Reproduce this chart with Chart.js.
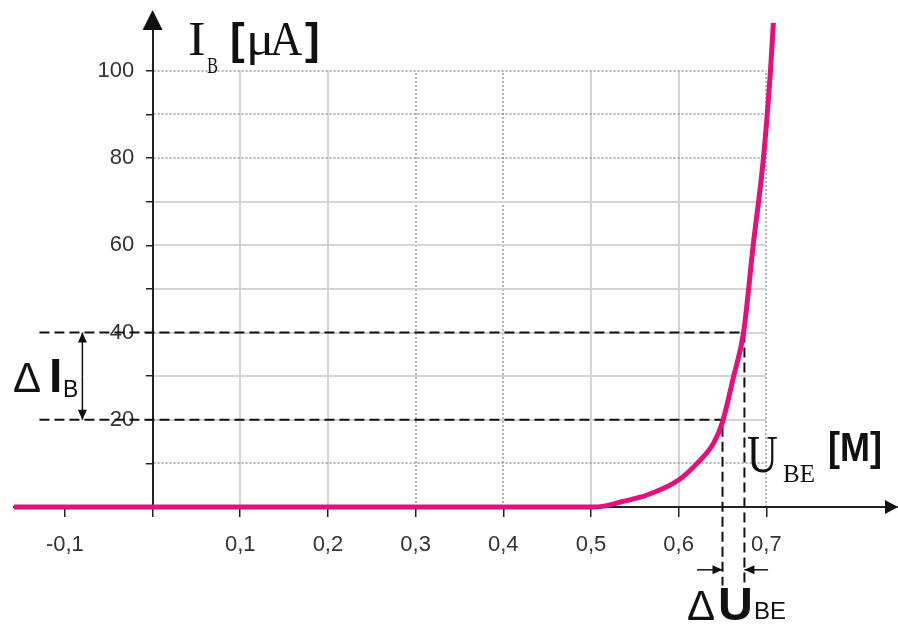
<!DOCTYPE html>
<html>
<head>
<meta charset="utf-8">
<script src="https://cdn.jsdelivr.net/npm/chart.js@4.4.1/dist/chart.umd.min.js"></script>
<style>
  html, body { margin: 0; padding: 0; background: #fff; }
  #wrap { position: relative; width: 898px; height: 629px; }
</style>
</head>
<body>
<div id="wrap"><canvas id="chart"></canvas></div>
<script>
// Input characteristic: base current I_B [uA] over base-emitter voltage U_BE [V]
const ubeValues = [-0.158, 0.50, 0.515, 0.534, 0.564, 0.60, 0.621, 0.64, 0.65, 0.6625, 0.674, 0.685, 0.6967, 0.7047, 0.708];
const ibValues  = [0, 0, 0.2, 1.15, 2.75, 6.2, 10, 14.7, 19.5, 29.8, 40, 60, 80, 100, 111];

// Operating point construction
const ibLow = 20, ibHigh = 40;
const ubeLow = 0.65, ubeHigh = 0.675;

// Axes
const xTickValues = [-0.1, 0, 0.1, 0.2, 0.3, 0.4, 0.5, 0.6, 0.7];
const xTickLabels = ['-0,1', '', '0,1', '0,2', '0,3', '0,4', '0,5', '0,6', '0,7'];
const yTickValues = [0, 10, 20, 30, 40, 50, 60, 70, 80, 90, 100];
const yTickLabels = ['', '', '20', '', '40', '', '60', '', '80', '', '100'];

const curve = ubeValues.map((u, i) => ({ x: u, y: ibValues[i] }));

// dashed helper lines: from left margin to the curve, then down below the axis
const dashStartX = -0.129, dashEndY = -18;
const dashHigh = [{ x: dashStartX, y: ibHigh }, { x: ubeHigh, y: ibHigh }, { x: ubeHigh, y: dashEndY }];
const dashLow  = [{ x: dashStartX, y: ibLow }, { x: ubeLow, y: ibLow }, { x: ubeLow, y: dashEndY }];

/**
 * Grid inside the 0..0.7 / 0..100 box, mixed solid and dotted lines
 */
const gridPlugin = {
    id: 'boxGrid',
    beforeDraw(chart, args, opts) {
        const { ctx, scales: { x, y } } = chart;
        const left = x.getPixelForValue(0), right = x.getPixelForValue(0.7);
        const bottom = y.getPixelForValue(0), top = y.getPixelForValue(100);
        const style = dotted => {
            if (dotted) {
                ctx.strokeStyle = '#8c8c8c'; ctx.lineWidth = 1.3; ctx.setLineDash([2, 2]);
            } else {
                ctx.strokeStyle = '#d4d4d4'; ctx.lineWidth = 2; ctx.setLineDash([]);
            }
        };
        ctx.save();
        xTickValues.filter(v => v > 0).forEach(v => {
            style(opts.dottedX.includes(v));
            const px = Math.round(x.getPixelForValue(v));
            ctx.beginPath(); ctx.moveTo(px, bottom); ctx.lineTo(px, top); ctx.stroke();
        });
        yTickValues.filter(v => v > 0).forEach(v => {
            style(opts.dottedY.includes(v));
            const py = Math.round(y.getPixelForValue(v));
            ctx.beginPath(); ctx.moveTo(left + 1, py); ctx.lineTo(right, py); ctx.stroke();
        });
        ctx.restore();
    }
};

function arrowHead(ctx, x1, y1, x2, y2, len, half) {
    const a = Math.atan2(y2 - y1, x2 - x1);
    ctx.beginPath();
    ctx.moveTo(x2, y2);
    ctx.lineTo(x2 - len * Math.cos(a) + half * Math.sin(a), y2 - len * Math.sin(a) - half * Math.cos(a));
    ctx.lineTo(x2 - len * Math.cos(a) - half * Math.sin(a), y2 - len * Math.sin(a) + half * Math.cos(a));
    ctx.closePath();
    ctx.fill();
}

function arrow(ctx, x1, y1, x2, y2) {
    ctx.beginPath(); ctx.moveTo(x1, y1); ctx.lineTo(x2, y2); ctx.stroke();
    arrowHead(ctx, x1, y1, x2, y2, 10, 4.5);
}

function txt(ctx, s, x, y, font, sx = 1) {
    ctx.save();
    ctx.translate(x, y);
    ctx.scale(sx, 1);
    ctx.font = font;
    ctx.fillText(s, 0, 0);
    ctx.restore();
}

/**
 * Axis arrows, delta markers and axis titles
 */
const notesPlugin = {
    id: 'notes',
    afterDraw(chart) {
        const { ctx, scales: { x, y } } = chart;
        const x0 = x.getPixelForValue(0), y0 = y.getPixelForValue(0);
        ctx.save();
        ctx.fillStyle = '#111';
        ctx.strokeStyle = '#111';

        // axis arrow heads and the y axis above the scale
        ctx.lineWidth = 2;
        ctx.beginPath(); ctx.moveTo(x0, chart.chartArea.top); ctx.lineTo(x0, 30); ctx.stroke();
        arrowHead(ctx, x0, 40, x0, 10, 20, 10);
        arrowHead(ctx, 860, y0, 898, y0, 13, 7);
        ctx.lineWidth = 1.5;

        // delta I_B marker
        const xi = x.getPixelForValue(-0.08);
        const yHi = y.getPixelForValue(ibHigh), yLo = y.getPixelForValue(ibLow);
        const mid = (yHi + yLo) / 2;
        arrow(ctx, xi, mid, xi, yHi);
        arrow(ctx, xi, mid, xi, yLo);

        // delta U_BE marker
        const ya = y.getPixelForValue(-14.4);
        arrow(ctx, x.getPixelForValue(0.621), ya, x.getPixelForValue(ubeLow), ya);
        arrow(ctx, x.getPixelForValue(0.702), ya, x.getPixelForValue(ubeHigh), ya);

        // titles
        ctx.textBaseline = 'alphabetic';
        ctx.textAlign = 'left';
        const serif = '"Liberation Serif", "Times New Roman", serif';
        const sans = '"Liberation Sans", Arial, sans-serif';
        txt(ctx, 'I', 188, 55, '48px ' + serif, 1.1);
        txt(ctx, 'B', 207, 73, '23px ' + serif, 0.72);
        txt(ctx, '[', 230, 54, 'bold 44px ' + sans);
        txt(ctx, '\u03bc', 246, 55, '48px ' + serif, 1.1);
        txt(ctx, 'A', 270, 55, '48px ' + serif, 0.93);
        txt(ctx, ']', 305, 54, 'bold 44px ' + sans);

        txt(ctx, 'U', 747, 472, '52px ' + serif, 0.82);
        txt(ctx, 'BE', 783, 482, '25px ' + serif);
        txt(ctx, '[M]', 828, 461, 'bold 40px ' + sans, 0.9);

        txt(ctx, '\u0394', 13, 392, '42px ' + sans);
        txt(ctx, 'I', 49, 392, 'bold 48px ' + sans);
        txt(ctx, 'B', 63, 397, '23px ' + sans);

        txt(ctx, '\u0394', 687, 620, '42px ' + sans);
        txt(ctx, 'U', 718, 620, 'bold 46px ' + sans, 1.05);
        txt(ctx, 'BE', 754, 619, '24px ' + sans);
        ctx.restore();
    }
};

const tickFont = { family: '"Liberation Sans", Arial, sans-serif', size: 22 };

new Chart(document.getElementById('chart'), {
    type: 'line',
    data: {
        datasets: [
            {
                label: 'I_B',
                data: curve,
                borderColor: '#e4107c',
                borderWidth: 5,
                pointRadius: 0,
                cubicInterpolationMode: 'monotone',
                clip: false,
                order: 0
            },
            {
                label: 'high',
                data: dashHigh,
                borderColor: '#111',
                borderWidth: 2,
                borderDash: [10, 5],
                pointRadius: 0,
                tension: 0,
                clip: false,
                order: 1
            },
            {
                label: 'low',
                data: dashLow,
                borderColor: '#111',
                borderWidth: 2,
                borderDash: [10, 5],
                pointRadius: 0,
                tension: 0,
                clip: false,
                order: 1
            }
        ]
    },
    options: {
        responsive: true,
        maintainAspectRatio: false,
        animation: false,
        layout: { padding: { left: 14, right: 1, top: 22, bottom: 122 } },
        plugins: {
            legend: { display: false },
            tooltip: { enabled: false },
            boxGrid: { dottedX: [0.3, 0.4, 0.7], dottedY: [10, 80, 90, 100] }
        },
        scales: {
            x: {
                type: 'linear',
                min: -0.158,
                max: 0.849,
                position: { y: 0 },
                afterBuildTicks: s => { s.ticks = xTickValues.map(v => ({ value: v })); },
                ticks: {
                    autoSkip: false,
                    maxRotation: 0,
                    padding: 16,
                    color: '#333',
                    font: tickFont,
                    callback: (v, i) => xTickLabels[i]
                },
                grid: { display: true, drawOnChartArea: false, drawTicks: true, tickLength: 9, color: '#222', lineWidth: 1.5 },
                border: { display: true, color: '#222', width: 2 }
            },
            y: {
                type: 'linear',
                min: 0,
                max: 111.2,
                position: { x: 0 },
                afterBuildTicks: s => { s.ticks = yTickValues.map(v => ({ value: v })); },
                ticks: {
                    autoSkip: false,
                    color: '#333',
                    font: tickFont,
                    // labels sit left of the axis line
                    callback: (v, i) => yTickLabels[i] ? yTickLabels[i] + '   ' : ''
                },
                grid: { display: true, drawOnChartArea: false, drawTicks: true, tickLength: 6, color: '#222', lineWidth: 1.5 },
                border: { display: true, color: '#222', width: 2 }
            }
        }
    },
    plugins: [gridPlugin, notesPlugin]
});
</script>
</body>
</html>
